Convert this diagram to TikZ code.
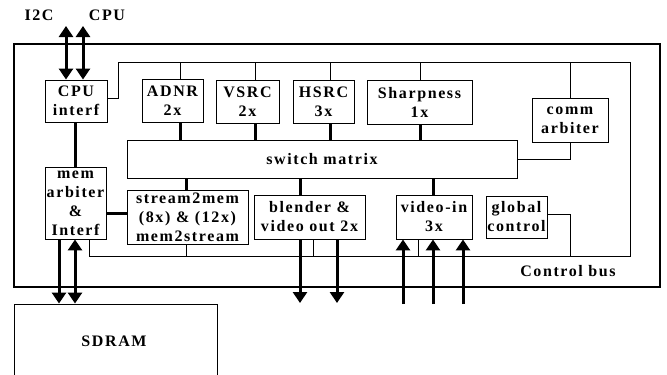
\documentclass[tikz,border=0pt]{standalone}
\usepackage{fontspec}
\setmainfont{Liberation Serif}
\newfontfamily\blkfont[LetterSpace=10]{Liberation Serif}
\usetikzlibrary{arrows.meta, positioning, calc}

\begin{document}
\begin{tikzpicture}[x=1pt, y=-1pt,
      blk/.style={draw, line width=0.9pt, inner sep=0pt,
                  align=center,
                  font=\blkfont\bfseries\fontsize{16}{19}\selectfont},
      lbl/.style={inner sep=0pt,
                  font=\blkfont\bfseries\fontsize{16}{19}\selectfont},
      bus/.style={line width=0.9pt},
      link/.style={line width=3pt},
      io/.style={line width=3pt,
                 -{Triangle[width=14pt, length=11pt]}},
      iobi/.style={line width=3pt,
                 {Triangle[width=14pt, length=11pt]}-{Triangle[width=14pt, length=11pt]}},
  ]
  \useasboundingbox (0,0) rectangle (667,375);

  % chip outline
  \draw[line width=2.5pt] (14,44) rectangle (660,287);

  % blocks
  \node[blk, minimum width=62pt, minimum height=42pt] (cpu)
      at (76,101) {CPU\\interf};
  \node[blk, minimum width=61pt, minimum height=43pt] (adnr)
      at (172.5,100.5) {ADNR\\2x};
  \node[blk, minimum width=63pt, minimum height=43pt] (vsrc)
      at (247.5,101.5) {VSRC\\2x};
  \node[blk, minimum width=61pt, minimum height=43pt] (hsrc)
      at (323.5,101.5) {HSRC\\3x};
  \node[blk, minimum width=105pt, minimum height=44pt] (sharp)
      at (419.5,102) {Sharpness\\1x};
  \node[blk, minimum width=76pt, minimum height=44pt] (comm)
      at (570,120) {comm\\arbiter};
  \node[blk, minimum width=390pt, minimum height=38pt] (sw)
      at (322,159) {switch matrix};
  \node[blk, minimum width=61pt, minimum height=72pt] (mem)
      at (75.5,203) {mem\\arbiter\\\&\\Interf};
  \node[blk, minimum width=121pt, minimum height=54pt] (strm)
      at (187.5,217) {stream2mem\\(8x) \& (12x)\\mem2stream};
  \node[blk, minimum width=111pt, minimum height=44pt] (blend)
      at (309.5,217) {blender \&\\video out 2x};
  \node[blk, minimum width=76pt, minimum height=44pt] (vin)
      at (434,217) {video-in\\3x};
  \node[blk, minimum width=61pt, minimum height=42pt] (glob)
      at (516.5,217) {global\\control};
  \node[blk, minimum width=203pt, minimum height=84pt] (sdram)
      at (115.5,346) {};
  \node[lbl] (sdramlbl) at (114,341) {SDRAM};

  \node[lbl] (i2c) at (39,15) {I2C};
  \node[lbl] (cpuio) at (107,15) {CPU};
  \node[lbl] (ctrl) at (568,271) {Control bus};

  % control bus
  \coordinate (bus tl) at (118,62);
  \coordinate (bus tr) at (630,62);
  \coordinate (bus br) at (630,256);
  \coordinate (bus bl) at (89,256);
  \draw[bus] (cpu.east |- 0,98) -| (bus tl) -- (bus tr) -- (bus br)
      -- (bus bl) -- (mem.south -| bus bl);
  \foreach \n/\x in {adnr/180, vsrc/255, hsrc/330, sharp/420, comm/570}
      \draw[bus] (\n.north -| \x,0) -- (bus tl -| \x,0);
  \foreach \n/\x in {strm/186, blend/313, vin/418}
      \draw[bus] (\n.south -| \x,0) -- (bus bl -| \x,0);
  \draw[bus] (glob.east |- 0,214) -| (bus bl -| 570,0);
  \draw[bus] (comm.south) |- (sw.east);

  % data paths
  \foreach \n/\x in {adnr/180, vsrc/255, hsrc/330, sharp/420}
      \draw[link] (\n.south -| \x,0) -- (sw.north -| \x,0);
  \foreach \n/\x in {strm/186, blend/300, vin/433}
      \draw[link] (sw.south -| \x,0) -- (\n.north -| \x,0);
  \draw[link] (cpu.south -| 75,0) -- (mem.north -| 75,0);
  \draw[link] (mem.east |- 0,213) -- (strm.west |- 0,213);

  % external ports
  \coordinate (i2c end) at (66,26);
  \coordinate (cpu end) at (83,26);
  \draw[iobi] (i2c end) -- (cpu.north -| i2c end);
  \draw[iobi] (cpu end) -- (cpu.north -| cpu end);
  \draw[io] (mem.south -| 59,0) -- (sdram.north -| 59,0);
  \draw[iobi] (mem.south -| 75,0) -- (sdram.north -| 75,0);
  \foreach \x in {300, 337}
      \draw[io] (blend.south -| \x,0) -- (\x,303);
  \foreach \x in {403, 433, 463}
      \draw[io] (\x,304) -- (vin.south -| \x,0);
\end{tikzpicture}
\end{document}
